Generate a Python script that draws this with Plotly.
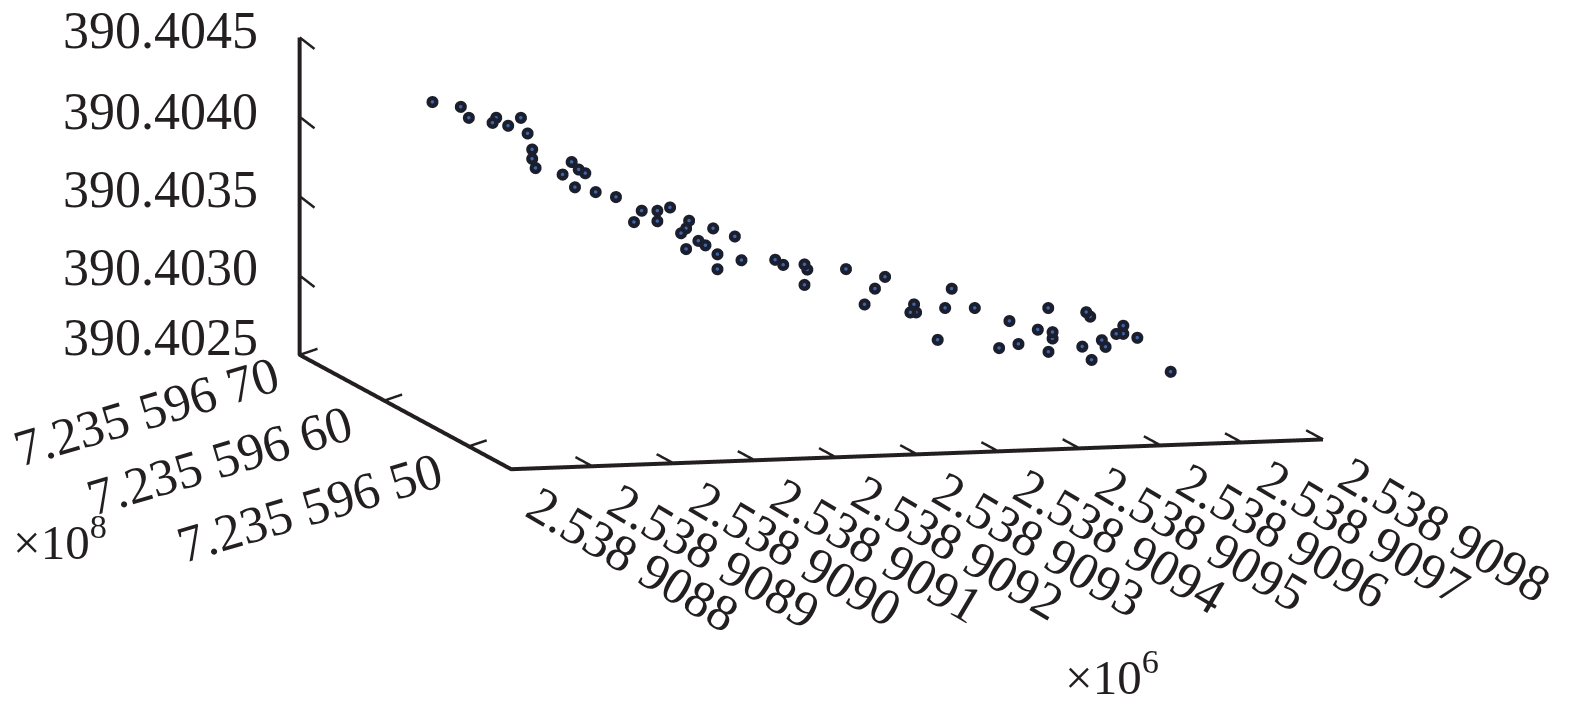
import plotly.graph_objects as go

# Tick values and labels
x_ticks = [2538908.8, 2538908.9, 2538909.0, 2538909.1, 2538909.2, 2538909.3,
           2538909.4, 2538909.5, 2538909.6, 2538909.7, 2538909.8]
x_labels = ["2.538 9088", "2.538 9089", "2.538 9090", "2.538 9091", "2.538 9092", "2.538 9093",
            "2.538 9094", "2.538 9095", "2.538 9096", "2.538 9097", "2.538 9098"]
y_ticks = [723559650, 723559660, 723559670]
y_labels = ["7.235 596 50", "7.235 596 60", "7.235 596 70"]
z_ticks = [390.4025, 390.4030, 390.4035, 390.4040, 390.4045]
z_labels = ["390.4025", "390.4030", "390.4035", "390.4040", "390.4045"]

# Points (east, north, height); north depth is an estimate from one projected view
x_values = [
 2538908.8332, 2538908.8681, 2538908.8780, 2538908.9117, 2538908.9072, 2538908.9264, 2538908.9421,
 2538908.9504, 2538908.9560, 2538908.9560, 2538908.9602, 2538909.0046, 2538909.0133, 2538909.0214,
 2538908.9935, 2538909.0087, 2538909.0342, 2538909.0592, 2538909.0909, 2538909.1102, 2538909.1258,
 2538909.0814, 2538909.1102, 2538909.1493, 2538909.1456, 2538909.1394, 2538909.1789, 2538909.2056,
 2538909.1607, 2538909.1694, 2538909.1456, 2538909.1842, 2538909.2138, 2538909.1842, 2538909.2553,
 2538909.2652, 2538909.2914, 2538909.2948, 2538909.2914, 2538909.3425, 2538909.3906, 2538909.3782,
 2538909.3654, 2538909.4727, 2538909.4263, 2538909.4218, 2538909.4288, 2538909.4646, 2538909.5011,
 2538909.4554, 2538909.5438, 2538909.5916, 2538909.5787, 2538909.5969, 2538909.5969, 2538909.5311,
 2538909.5549, 2538909.5919, 2538909.6384, 2538909.6433, 2538909.6335, 2538909.6450, 2538909.6576,
 2538909.6622, 2538909.6840, 2538909.6754, 2538909.6840, 2538909.7013, 2538909.7424]
y_values = [723559657.5] * 69
z_values = [
 390.404448, 390.404411, 390.404340, 390.404334, 390.404303, 390.404281, 390.404328,
 390.404228, 390.404126, 390.404067, 390.404008, 390.404038, 390.403989, 390.403964,
 390.403961, 390.403878, 390.403843, 390.403807, 390.403715, 390.403711, 390.403729,
 390.403645, 390.403645, 390.403641, 390.403593, 390.403564, 390.403587, 390.403531,
 390.403512, 390.403482, 390.403463, 390.403423, 390.403380, 390.403329, 390.403375,
 390.403341, 390.403339, 390.403306, 390.403210, 390.403300, 390.403242, 390.403170,
 390.403073, 390.403152, 390.403062, 390.403012, 390.403011, 390.403032, 390.403025,
 390.402833, 390.402935, 390.403008, 390.402874, 390.402855, 390.402815, 390.402767,
 390.402788, 390.402732, 390.402973, 390.402944, 390.402757, 390.402671, 390.402793,
 390.402750, 390.402879, 390.402829, 390.402828, 390.402800, 390.402578]

# Axis bases (subtracted so WebGL keeps precision on these very large numbers)
X0, Y0, Z0 = 2538908.8, 723559645.0, 390.4025
XR, YR, ZR = 1.0, 25.0, 0.002

INK = "#231f20"
FONT = "Liberation Serif"
FS = 52

px = [round(v - X0, 6) for v in x_values]
py = [round(v - Y0, 6) for v in y_values]
pz = [round(v - Z0, 8) for v in z_values]
xt = [round(v - X0, 6) for v in x_ticks]
yt = [round(v - Y0, 6) for v in y_ticks]
zt = [round(v - Z0, 8) for v in z_ticks]

fig = go.Figure()

def seg(xs, ys, zs, width):
    fig.add_trace(go.Scatter3d(x=xs, y=ys, z=zs, mode="lines", showlegend=False, hoverinfo="skip",
                               line=dict(color=INK, width=width)))

# axis lines
seg([XR, 0, 0, 0], [0, 0, YR, YR], [0, 0, 0, ZR], 8)
# ticks
tx, ty, tz = [], [], []
for v in xt[1:]:
    tx += [v, v, None]; ty += [0, 2.0, None]; tz += [0, 0, None]
for v in yt:
    tx += [0, 0.022, None]; ty += [v, v, None]; tz += [0, 0.000034, None]
for v in zt[1:]:
    tx += [0, 0, None]; ty += [YR, YR - 1.76, None]; tz += [v, v - 0.000022, None]
seg(tx, ty, tz, 5)

fig.add_trace(go.Scatter3d(x=px, y=py, z=pz, mode="markers", showlegend=False,
                           marker=dict(size=7, color="#1b1e2c", opacity=1)))
fig.add_trace(go.Scatter3d(x=px, y=py, z=pz, mode="markers", showlegend=False,
                           marker=dict(size=2, color="#3d66a8", opacity=1)))

ann = []
tf = dict(family=FONT, size=FS, color=INK)
z_shift = [17, 7.6, 6.4, 5.7, 7]
for v, t, s in zip(zt, z_labels, z_shift):
    ann.append(dict(x=0, y=YR, z=v, text=t, showarrow=False, font=tf, xanchor="center", yanchor="middle",
                    xshift=-139.5, yshift=s))
y_shift = [(-159, -61), (-165, -60), (-153, -57)]
for v, t, s in zip(yt, y_labels, y_shift):
    ann.append(dict(x=0, y=v, z=0, text=t, showarrow=False, font=tf, textangle=-16.5, xanchor="center",
                    yanchor="middle", xshift=s[0], yshift=s[1]))
for v, t in zip(xt, x_labels):
    ann.append(dict(x=v, y=0, z=0, text=t, showarrow=False, font=tf, textangle=30.5, xanchor="center",
                    yanchor="middle", xshift=122, yshift=-90))

ax_off = dict(showgrid=False, zeroline=False, showline=False, showticklabels=False, ticks="",
              showbackground=False, showspikes=False, title=dict(text=""))

DIST = 3.0
cx, cz = -0.069, -0.334
fig.update_layout(
    width=1575, height=715, margin=dict(l=0, r=0, t=0, b=0),
    paper_bgcolor="white", showlegend=False,
    scene=dict(
        domain=dict(x=[0, 1], y=[0, 1]),
        xaxis=dict(range=[0, XR], **ax_off),
        yaxis=dict(range=[0, YR], **ax_off),
        zaxis=dict(range=[0, ZR], **ax_off),
        aspectmode="manual", aspectratio=dict(x=2.347, y=2.347, z=0.897),
        camera=dict(projection=dict(type="orthographic"), up=dict(x=0, y=0, z=1),
                    center=dict(x=cx, y=0, z=cz),
                    eye=dict(x=cx-0.2495*DIST, y=-0.9577*DIST, z=cz+0.1408*DIST)),
        annotations=ann,
    ),
    annotations=[
        dict(xref="paper", yref="paper", x=60/1575, y=1-538/715, text="×10<sup>8</sup>", showarrow=False,
             xanchor="center", yanchor="middle", font=dict(family=FONT, size=49, color=INK)),
        dict(xref="paper", yref="paper", x=1112/1575, y=1-673/715, text="×10<sup>6</sup>", showarrow=False,
             xanchor="center", yanchor="middle", font=dict(family=FONT, size=49, color=INK)),
    ],
)
fig.write_html("out.html", post_script="document.body.style.margin='0';", config=dict(displayModeBar=False))
